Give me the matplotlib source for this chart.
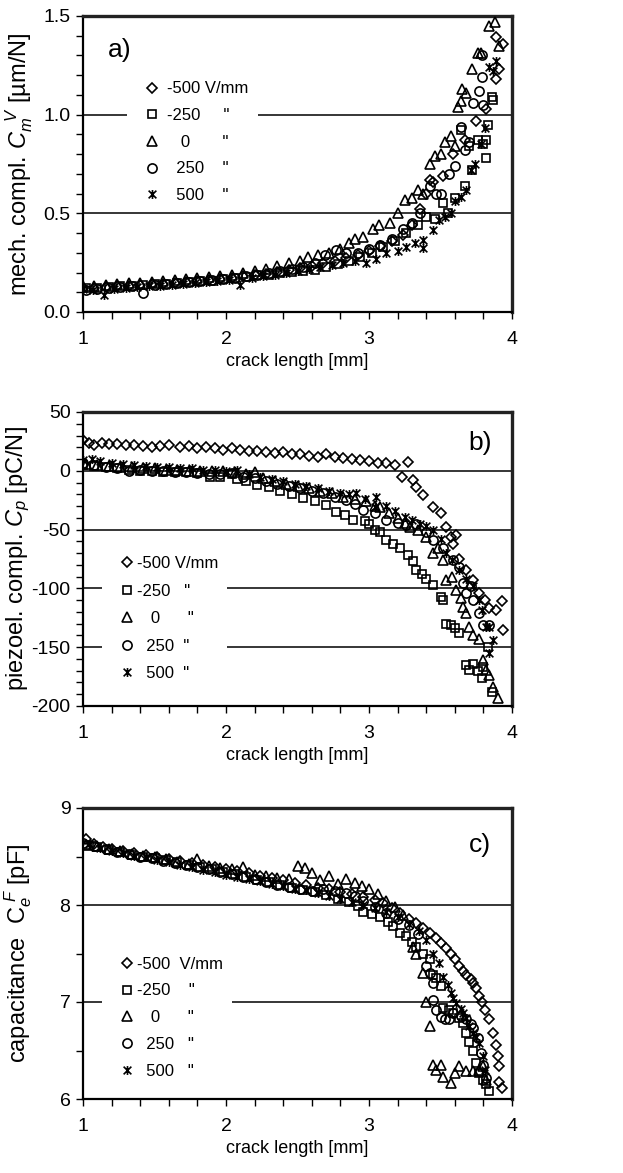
import matplotlib
matplotlib.use('Agg')
import matplotlib.pyplot as plt
from matplotlib.path import Path
from matplotlib.ticker import MultipleLocator

plt.rcParams['font.family'] = ['Liberation Sans', 'DejaVu Sans']
plt.rcParams['mathtext.fontset'] = 'custom'
plt.rcParams['mathtext.rm'] = 'Liberation Sans'
plt.rcParams['mathtext.it'] = 'Liberation Sans:italic'
plt.rcParams['axes.unicode_minus'] = False

# ---- panel a: mechanical compliance [um/N] ----
a_x_m500 = [1.00, 1.08, 1.16, 1.24, 1.32, 1.40, 1.48, 1.56, 1.64, 1.72, 1.80, 1.88, 1.96, 2.04, 2.12, 2.20,
            2.28, 2.36, 2.44, 2.52, 2.60, 2.68, 2.76, 2.84, 2.92, 3.00, 3.08, 3.16, 3.24, 3.30, 3.36, 3.40,
            3.43, 3.45, 3.52, 3.59, 3.67, 3.75, 3.82, 3.89, 3.89, 3.91, 3.94]
a_y_m500 = [0.12, 0.12, 0.125, 0.13, 0.13, 0.135, 0.14, 0.14, 0.145, 0.15, 0.155, 0.16, 0.165, 0.17, 0.18, 0.19,
            0.195, 0.205, 0.215, 0.225, 0.235, 0.25, 0.26, 0.275, 0.29, 0.31, 0.335, 0.36, 0.39, 0.44, 0.52, 0.60,
            0.67, 0.66, 0.69, 0.80, 0.87, 0.97, 1.03, 1.18, 1.395, 1.23, 1.36]
a_x_m250 = [1.02, 1.10, 1.18, 1.26, 1.34, 1.42, 1.50, 1.58, 1.66, 1.74, 1.82, 1.90, 1.98, 2.06, 2.14, 2.22,
            2.30, 2.38, 2.46, 2.54, 2.62, 2.70, 2.78, 2.86, 2.94, 3.02, 3.10, 3.18, 3.26, 3.34, 3.40, 3.46,
            3.52, 3.55, 3.60, 3.64, 3.67, 3.70, 3.72, 3.76, 3.80, 3.82, 3.82, 3.83, 3.86, 3.87]
a_y_m250 = [0.12, 0.12, 0.125, 0.13, 0.13, 0.135, 0.14, 0.14, 0.145, 0.15, 0.155, 0.155, 0.165, 0.17, 0.175, 0.185,
            0.19, 0.2, 0.205, 0.21, 0.215, 0.23, 0.245, 0.26, 0.28, 0.3, 0.33, 0.36, 0.40, 0.44, 0.48, 0.47,
            0.55, 0.50, 0.58, 0.92, 0.64, 0.84, 0.72, 0.87, 0.85, 0.87, 0.78, 0.95, 1.09, 1.075]
a_x_0 = [1.00, 1.08, 1.16, 1.24, 1.32, 1.40, 1.48, 1.56, 1.64, 1.72, 1.80, 1.88, 1.96, 2.04, 2.12, 2.20,
         2.28, 2.36, 2.44, 2.52, 2.57, 2.64, 2.72, 2.80, 2.86, 2.90, 2.96, 3.03, 3.07, 3.15, 3.20, 3.25,
         3.30, 3.34, 3.38, 3.43, 3.46, 3.50, 3.53, 3.57, 3.60, 3.62, 3.64, 3.65, 3.68, 3.72, 3.76, 3.78,
         3.84, 3.88, 3.91]
a_y_0 = [0.13, 0.13, 0.135, 0.14, 0.145, 0.145, 0.15, 0.155, 0.16, 0.165, 0.17, 0.175, 0.18, 0.19, 0.2, 0.21,
         0.22, 0.235, 0.25, 0.26, 0.28, 0.29, 0.3, 0.32, 0.35, 0.37, 0.38, 0.42, 0.44, 0.45, 0.50, 0.57,
         0.58, 0.62, 0.60, 0.75, 0.79, 0.80, 0.86, 0.89, 0.84, 1.04, 1.07, 1.13, 1.11, 1.23, 1.31, 1.31,
         1.45, 1.47, 1.35]
a_x_250 = [1.02, 1.10, 1.18, 1.26, 1.34, 1.42, 1.50, 1.58, 1.66, 1.74, 1.82, 1.90, 1.98, 2.06, 2.14, 2.22,
           2.30, 2.38, 2.46, 2.54, 2.62, 2.69, 2.77, 2.84, 2.92, 3.00, 3.08, 3.16, 3.24, 3.30, 3.36, 3.43,
           3.47, 3.50, 3.56, 3.60, 3.64, 3.67, 3.70, 3.73, 3.77, 3.79, 3.79, 3.80]
a_y_250 = [0.11, 0.115, 0.12, 0.125, 0.13, 0.095, 0.135, 0.14, 0.145, 0.15, 0.155, 0.16, 0.165, 0.17, 0.18, 0.19,
           0.20, 0.21, 0.22, 0.23, 0.25, 0.29, 0.315, 0.30, 0.30, 0.32, 0.34, 0.37, 0.42, 0.45, 0.50, 0.636,
           0.60, 0.60, 0.70, 0.74, 0.94, 0.82, 0.86, 1.06, 1.12, 1.19, 1.30, 1.05]
a_x_500 = [1.00, 1.07, 1.15, 1.22, 1.30, 1.38, 1.46, 1.54, 1.62, 1.70, 1.78, 1.86, 1.94, 2.02, 2.10, 2.18,
           2.26, 2.34, 2.42, 2.50, 2.58, 2.66, 2.74, 2.82, 2.90, 2.98, 3.05, 3.12, 3.20, 3.26, 3.32, 3.38,
           3.38, 3.45, 3.49, 3.53, 3.57, 3.60, 3.64, 3.68, 3.71, 3.74, 3.78, 3.81, 3.84, 3.87, 3.89]
a_y_500 = [0.115, 0.11, 0.088, 0.115, 0.12, 0.125, 0.13, 0.13, 0.135, 0.14, 0.145, 0.15, 0.155, 0.16, 0.138, 0.17,
           0.18, 0.19, 0.2, 0.21, 0.22, 0.23, 0.24, 0.25, 0.256, 0.25, 0.27, 0.30, 0.31, 0.33, 0.35, 0.324,
           0.366, 0.416, 0.467, 0.48, 0.50, 0.56, 0.585, 0.62, 0.72, 0.75, 0.85, 0.93, 1.24, 1.22, 1.27]

# ---- panel b: piezoelectric compliance [pC/N] ----
b_x_m500 = [1.00, 1.04, 1.08, 1.13, 1.18, 1.24, 1.30, 1.36, 1.42, 1.48, 1.54, 1.60, 1.68, 1.74, 1.80, 1.86,
            1.92, 1.98, 2.04, 2.10, 2.16, 2.22, 2.28, 2.34, 2.40, 2.46, 2.52, 2.58, 2.64, 2.70, 2.76, 2.82,
            2.88, 2.94, 3.00, 3.06, 3.12, 3.18, 3.23, 3.27, 3.31, 3.33, 3.38, 3.45, 3.50, 3.54, 3.57, 3.59,
            3.61, 3.63, 3.68, 3.73, 3.77, 3.81, 3.84, 3.89, 3.93, 3.94]
b_y_m500 = [26, 24, 22, 24, 23, 23, 22, 22, 21, 20, 21, 22, 20, 21, 19, 20,
            19, 18, 19, 18, 17, 17, 16, 15, 16, 14, 14, 13, 12, 14, 12, 11,
            10, 9, 8, 7, 7, 5, -5, 7.5, -8, -14, -21, -31, -36, -48, -56, -62,
            -55, -75, -84, -93, -104, -110, -117, -118, -111, -135]
b_x_m250 = [1.00, 1.08, 1.16, 1.24, 1.32, 1.40, 1.48, 1.56, 1.64, 1.72, 1.80, 1.89, 1.96, 2.04, 2.08, 2.14,
            2.22, 2.30, 2.38, 2.46, 2.54, 2.62, 2.70, 2.77, 2.83, 2.89, 2.97, 3.00, 3.04, 3.08, 3.12, 3.17,
            3.22, 3.27, 3.31, 3.33, 3.37, 3.40, 3.45, 3.50, 3.52, 3.54, 3.57, 3.60, 3.63, 3.68, 3.70, 3.73,
            3.76, 3.79, 3.80, 3.83, 3.86]
b_y_m250 = [5, 4, 3, 2, 1, 0, 0, -1, -1, -1, -2, -5, -5, -3, -7, -9,
            -12, -14, -17, -20, -23, -26, -29, -35, -38, -42, -43, -45, -50, -52, -59, -62,
            -66, -72, -77, -84, -88, -92, -97, -107, -110, -130, -131, -134, -138, -165, -169, -164,
            -170, -176, -167, -150, -188]
b_x_0 = [1.02, 1.10, 1.18, 1.26, 1.34, 1.42, 1.50, 1.58, 1.66, 1.74, 1.82, 1.90, 1.98, 2.06, 2.14, 2.20,
         2.26, 2.34, 2.42, 2.50, 2.58, 2.66, 2.74, 2.82, 2.90, 2.98, 3.04, 3.08, 3.14, 3.20, 3.25, 3.29,
         3.34, 3.40, 3.45, 3.48, 3.52, 3.54, 3.58, 3.61, 3.64, 3.66, 3.68, 3.70, 3.73, 3.77, 3.80, 3.82,
         3.84, 3.87, 3.90]
b_y_0 = [6, 5, 4, 3, 3, 2, 2, 1, 1, 0, 0, 0, 0, -1, -3, -1,
         -6, -9, -11, -13, -15, -17, -19, -22, -24, -26, -30, -31, -36, -40, -44, -48,
         -50, -56, -70, -66, -76, -93, -90, -101, -108, -116, -121, -133, -140, -143, -161, -169,
         -174, -184, -193]
b_x_250 = [1.00, 1.08, 1.16, 1.24, 1.32, 1.40, 1.48, 1.56, 1.64, 1.72, 1.80, 1.88, 1.96, 2.04, 2.12, 2.20,
           2.28, 2.36, 2.44, 2.52, 2.60, 2.68, 2.76, 2.84, 2.90, 2.96, 3.04, 3.12, 3.20, 3.26, 3.33, 3.40,
           3.45, 3.52, 3.59, 3.63, 3.66, 3.68, 3.71, 3.73, 3.77, 3.80, 3.84]
b_y_250 = [7, 5, 3, 2, 0, 1, 0, 0, -1, -1, -2, -3, -3, -2, -5, -6,
           -9, -11, -13, -15, -17, -19, -22, -25, -28, -33, -36, -42, -44, -46, -45, -52,
           -59, -66, -76, -82, -95, -104, -98, -110, -121, -131, -131]
b_x_500 = [1.00, 1.06, 1.12, 1.20, 1.28, 1.36, 1.44, 1.52, 1.60, 1.68, 1.76, 1.84, 1.92, 2.00, 2.08, 2.16,
           2.24, 2.32, 2.40, 2.48, 2.56, 2.64, 2.72, 2.80, 2.86, 2.91, 2.97, 3.04, 3.05, 3.12, 3.18, 3.25,
           3.30, 3.36, 3.40, 3.45, 3.50, 3.54, 3.58, 3.63, 3.68, 3.73, 3.77, 3.79, 3.82, 3.84, 3.87, 3.84]
b_y_500 = [9, 10, 8, 7, 6, 5, 4, 3, 3, 2, 2, 1, 1, 0, 1, -3,
           -5, -7, -9, -11, -13, -15, -17, -19, -20, -19, -24, -31, -22, -30, -34, -39,
           -42, -45, -47, -50, -58, -70, -76, -84, -92, -98, -110, -118, -133, -133, -144, -155]

# ---- panel c: capacitance [pF] ----
c_x_m500 = [1.02, 1.08, 1.14, 1.20, 1.28, 1.36, 1.44, 1.52, 1.60, 1.68, 1.76, 1.84, 1.92, 2.00, 2.08, 2.16,
            2.24, 2.32, 2.40, 2.48, 2.56, 2.64, 2.72, 2.80, 2.88, 2.96, 3.04, 3.10, 3.16, 3.22, 3.28, 3.33,
            3.38, 3.43, 3.47, 3.50, 3.54, 3.57, 3.60, 3.63, 3.66, 3.68, 3.71, 3.73, 3.75, 3.77, 3.79, 3.81,
            3.84, 3.87, 3.89, 3.90, 3.91, 3.91, 3.93]
c_y_m500 = [8.68, 8.63, 8.60, 8.58, 8.56, 8.54, 8.52, 8.50, 8.47, 8.45, 8.43, 8.41, 8.39, 8.37, 8.35, 8.33,
            8.30, 8.28, 8.26, 8.23, 8.21, 8.18, 8.16, 8.13, 8.11, 8.08, 8.05, 8.02, 7.97, 7.92, 7.86, 7.81,
            7.76, 7.71, 7.66, 7.61, 7.56, 7.50, 7.44, 7.37, 7.32, 7.28, 7.24, 7.20, 7.14, 7.06, 7.00, 6.92,
            6.82, 6.68, 6.56, 6.44, 6.34, 6.18, 6.11]
c_x_m250 = [1.03, 1.10, 1.18, 1.26, 1.34, 1.42, 1.50, 1.58, 1.66, 1.74, 1.82, 1.90, 1.98, 2.06, 2.14, 2.22,
            2.30, 2.38, 2.46, 2.54, 2.62, 2.70, 2.78, 2.86, 2.92, 2.96, 3.02, 3.08, 3.13, 3.17, 3.22, 3.26,
            3.30, 3.33, 3.38, 3.43, 3.45, 3.47, 3.50, 3.52, 3.56, 3.59, 3.63, 3.66, 3.68, 3.70, 3.73, 3.75,
            3.77, 3.80, 3.82, 3.84]
c_y_m250 = [8.62, 8.60, 8.57, 8.55, 8.52, 8.50, 8.48, 8.46, 8.44, 8.41, 8.39, 8.37, 8.34, 8.32, 8.29, 8.26,
            8.24, 8.21, 8.18, 8.15, 8.13, 8.10, 8.06, 8.03, 7.99, 7.93, 7.91, 7.88, 7.82, 7.78, 7.71, 7.68,
            7.62, 7.57, 7.50, 7.44, 7.28, 7.25, 7.16, 6.94, 6.92, 6.89, 6.84, 6.78, 6.68, 6.59, 6.49, 6.37,
            6.27, 6.20, 6.15, 6.08]
c_x_0 = [1.02, 1.10, 1.18, 1.26, 1.34, 1.42, 1.50, 1.58, 1.66, 1.74, 1.80, 1.88, 1.96, 2.04, 2.12, 2.20,
         2.28, 2.36, 2.44, 2.50, 2.55, 2.60, 2.66, 2.72, 2.78, 2.84, 2.90, 2.95, 3.00, 3.06, 3.12, 3.18,
         3.24, 3.31, 3.33, 3.38, 3.40, 3.43, 3.45, 3.47, 3.50, 3.52, 3.57, 3.60, 3.63, 3.68, 3.73, 3.77,
         3.80, 3.82]
c_y_0 = [8.62, 8.61, 8.58, 8.56, 8.53, 8.51, 8.49, 8.47, 8.44, 8.42, 8.47, 8.40, 8.38, 8.37, 8.39, 8.31,
         8.30, 8.28, 8.27, 8.40, 8.38, 8.33, 8.26, 8.30, 8.22, 8.27, 8.23, 8.20, 8.16, 8.11, 8.04, 7.98,
         7.90, 7.57, 7.50, 7.30, 7.00, 6.75, 6.35, 6.30, 6.35, 6.23, 6.16, 6.27, 6.34, 6.29, 6.29, 6.30,
         6.34, 6.20]
c_x_250 = [1.00, 1.08, 1.16, 1.24, 1.32, 1.40, 1.48, 1.56, 1.64, 1.72, 1.80, 1.88, 1.96, 2.04, 2.12, 2.20,
           2.28, 2.36, 2.44, 2.52, 2.60, 2.68, 2.76, 2.84, 2.90, 2.96, 3.04, 3.12, 3.20, 3.28, 3.34, 3.40,
           3.43, 3.45, 3.45, 3.47, 3.50, 3.53, 3.56, 3.59, 3.64, 3.68, 3.71, 3.73, 3.76, 3.78, 3.80, 3.82]
c_y_250 = [8.64, 8.61, 8.58, 8.55, 8.53, 8.50, 8.48, 8.45, 8.43, 8.41, 8.39, 8.37, 8.34, 8.32, 8.29, 8.27,
           8.24, 8.21, 8.19, 8.16, 8.14, 8.17, 8.14, 8.12, 8.09, 8.04, 7.98, 7.92, 7.86, 7.79, 7.70, 7.37,
           7.30, 7.20, 7.02, 6.92, 6.85, 6.82, 6.82, 6.89, 6.86, 6.82, 6.77, 6.73, 6.63, 6.47, 6.35, 6.22]
c_x_500 = [1.04, 1.12, 1.20, 1.28, 1.36, 1.44, 1.52, 1.60, 1.68, 1.76, 1.84, 1.92, 2.00, 2.08, 2.16, 2.24,
           2.32, 2.40, 2.48, 2.56, 2.64, 2.72, 2.80, 2.88, 2.96, 3.04, 3.12, 3.20, 3.28, 3.35, 3.40, 3.45,
           3.49, 3.52, 3.55, 3.57, 3.59, 3.61, 3.64, 3.66, 3.68, 3.70, 3.73, 3.75, 3.77, 3.80, 3.81]
c_y_500 = [8.63, 8.59, 8.56, 8.54, 8.51, 8.49, 8.46, 8.44, 8.41, 8.39, 8.36, 8.34, 8.31, 8.29, 8.27, 8.25,
           8.22, 8.20, 8.17, 8.15, 8.12, 8.09, 8.06, 8.03, 8.00, 7.97, 7.93, 7.88, 7.80, 7.73, 7.64, 7.50,
           7.40, 7.26, 7.18, 7.09, 7.04, 6.99, 6.93, 6.89, 6.83, 6.75, 6.68, 6.64, 6.58, 6.44, 6.30]

legend_a = ['-500 V/mm', '-250     "', '   0       "', '  250    "', '  500    "']
legend_b = ['-500 V/mm', '-250   "', '   0      "', '  250  "', '  500  "']
legend_c = ['-500  V/mm', '-250    "', '   0      "', '  250   "', '  500   "']

# Excel-like "star" marker: an x with a vertical bar
star = Path([(-1, -1), (1, 1), (-1, 1), (1, -1), (0, -1.15), (0, 1.15)],
            [Path.MOVETO, Path.LINETO, Path.MOVETO, Path.LINETO, Path.MOVETO, Path.LINETO])
markers = [('D', 4.6), ('s', 6.2), ('^', 7.0), ('o', 6.6), (star, 6.4)]

fig = plt.figure(figsize=(6.23, 11.73), dpi=100)


def panel(rect, xs, ys, ylim, ymaj, ymin, ylabel, ylab_x, tag, tagpos, labels, legpos, txtpad, lspace):
    ax = fig.add_axes(rect)
    handles = []
    for (x, y), (m, ms) in zip(zip(xs, ys), markers):
        h, = ax.plot(x, y, ls='none', marker=m, ms=ms, mfc='none', mec='k', mew=1.2, zorder=3)
        handles.append(h)
    ax.set_xlim(1, 4)
    ax.set_ylim(*ylim)
    ax.xaxis.set_major_locator(MultipleLocator(1))
    ax.xaxis.set_minor_locator(MultipleLocator(0.2))
    ax.yaxis.set_major_locator(MultipleLocator(ymaj))
    ax.yaxis.set_minor_locator(MultipleLocator(ymin))
    ax.yaxis.grid(True, which='major', color='k', lw=1.1, zorder=1)
    ax.set_axisbelow(True)
    ax.tick_params(which='both', direction='out', length=5, width=1, colors='k')
    ax.tick_params(axis='x', pad=9, labelsize=14)
    ax.tick_params(axis='y', pad=4, labelsize=14)
    for s in ['left', 'bottom']:
        ax.spines[s].set_linewidth(1.6)
    for s in ['top', 'right']:
        ax.spines[s].set_linewidth(2.4)
        ax.spines[s].set_color('#222222')
    ax.set_xlabel('crack length [mm]', fontsize=13, labelpad=3)
    ax.set_ylabel(ylabel, fontsize=17)
    ax.yaxis.set_label_coords(ylab_x, 0.5)
    ax.text(tagpos[0], tagpos[1], tag, transform=ax.transAxes, fontsize=19, ha='center', va='center')
    leg = ax.legend(handles, labels, loc='upper left', bbox_to_anchor=legpos, fontsize=12,
                    frameon=True, fancybox=False, framealpha=1, facecolor='white', edgecolor='none',
                    handlelength=1.9, handletextpad=txtpad, labelspacing=lspace, borderpad=0.55,
                    borderaxespad=0)
    leg.set_zorder(4)
    return ax


fig_h = 1173.0
fig_w = 623.0
left = 83 / fig_w
width = (512 - 83) / fig_w

panel([left, 1 - 312 / fig_h, width, 296 / fig_h],
      [a_x_m500, a_x_m250, a_x_0, a_x_250, a_x_500],
      [a_y_m500, a_y_m250, a_y_0, a_y_250, a_y_500],
      (0, 1.5), 0.5, 0.1, r'mech. compl. $C_{m}^{\ \ V}$ [µm/N]', -0.112, 'a)', (0.085, 0.885),
      legend_a, (0.1026, 0.81), -0.05, 0.70)

panel([left, 1 - 706 / fig_h, width, 294 / fig_h],
      [b_x_m500, b_x_m250, b_x_0, b_x_250, b_x_500],
      [b_y_m500, b_y_m250, b_y_0, b_y_250, b_y_500],
      (-200, 50), 50, 10, r'piezoel. compl. $C_{p}$ [pC/N]', -0.12, 'b)', (0.925, 0.895),
      legend_b, (0.044, 0.541), -0.35, 0.75)

panel([left, 1 - 1099 / fig_h, width, 291 / fig_h],
      [c_x_m500, c_x_m250, c_x_0, c_x_250, c_x_500],
      [c_y_m500, c_y_m250, c_y_0, c_y_250, c_y_500],
      (6, 9), 1, 0.5, r'capacitance  $\mathrm{C}_{e}^{\ F}$ [pF]', -0.115, 'c)', (0.925, 0.873),
      legend_c, (0.044, 0.521), -0.35, 0.71)

fig.savefig('out.png', dpi=100)
